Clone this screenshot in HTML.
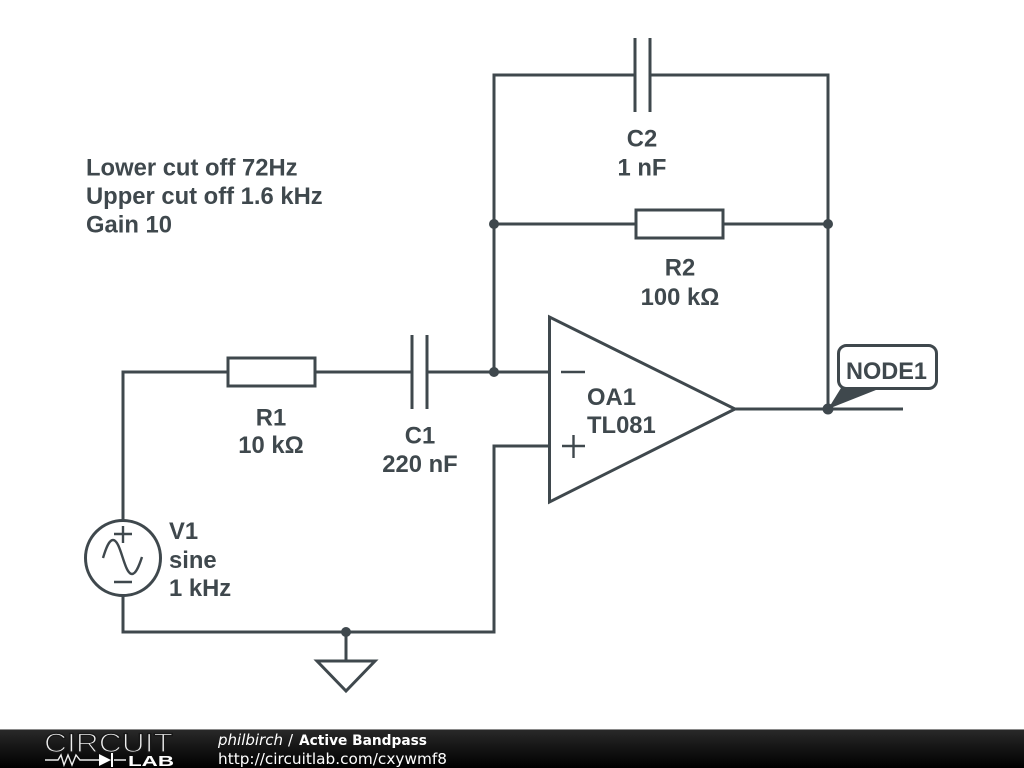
<!DOCTYPE html>
<html><head><meta charset="utf-8"><style>
html,body{margin:0;padding:0;background:#fff;width:1024px;height:768px;overflow:hidden}
svg{display:block}
.l{font:bold 23.800px "Liberation Sans",sans-serif;fill:#3f484d}
.m{text-anchor:middle}
.w{fill:none;stroke:#3f484d;stroke-width:3}
.t{fill:none;stroke:#3f484d;stroke-width:2.400}
</style></head><body>
<svg width="1024" height="768" viewBox="0 0 1024 768" xmlns="http://www.w3.org/2000/svg">
<defs><linearGradient id="g" x1="0" y1="0" x2="0" y2="1"><stop offset="0" stop-color="#2a2a2a"/><stop offset="0.5" stop-color="#141414"/><stop offset="1" stop-color="#000"/></linearGradient></defs>
<g class="w">
<path d="M123 521V372H228M315 372H412M427 372H549M123 596V632H494V446H549"/>
<path d="M494 372V75H635M650 75H828V409"/>
<path d="M494 224H636M723 224H828"/>
<path d="M735 409H903"/>
<path d="M346 632V661"/>
<path d="M317 661H375L346 691Z"/>
<rect x="228" y="358" width="87" height="28"/>
<rect x="636" y="210" width="87" height="28"/>
<path d="M412 335V409M427 335V409"/>
<path d="M635 38V112M650 38V112"/>
<path d="M549.500 317V502L735 409Z"/>
<circle cx="123" cy="558" r="37.500"/>
</g>
<path class="t" d="M561 372H585M562 446H585M573.500 435V458"/>
<path class="t" d="M114 534H132M123 526V543M114 582H132"/>
<path class="t" d="M103 558C106 548 109 540 113 540C121 540 124 574 132 574C136 574 139 566 142 557"/>
<g fill="#3f484d">
<circle cx="494" cy="224" r="5"/><circle cx="828" cy="224" r="5"/><circle cx="494" cy="372" r="5"/><circle cx="346" cy="632" r="5"/><circle cx="828" cy="409" r="5.500"/>
<path d="M828 409L841 388H881Z"/>
</g>
<rect x="838.500" y="345.500" width="98" height="43" rx="8" fill="#fff" stroke="#3f484d" stroke-width="3"/>
<text class="l" x="846" y="379" textLength="81" lengthAdjust="spacingAndGlyphs">NODE1</text>
<text class="l" x="86" y="175.500">Lower cut off 72Hz</text>
<text class="l" x="86" y="204">Upper cut off 1.6 kHz</text>
<text class="l" x="86" y="232.500">Gain 10</text>
<text class="l m" x="642" y="146.500">C2</text>
<text class="l m" x="642" y="175.500">1 nF</text>
<text class="l m" x="680" y="275.500">R2</text>
<text class="l m" x="680" y="305">100 kΩ</text>
<text class="l m" x="271" y="425.500">R1</text>
<text class="l m" x="271" y="453">10 kΩ</text>
<text class="l m" x="420" y="443.500">C1</text>
<text class="l m" x="420" y="472">220 nF</text>
<text class="l" x="587" y="405">OA1</text>
<text class="l" x="587" y="433">TL081</text>
<text class="l" x="169" y="539">V1</text>
<text class="l" x="169" y="568">sine</text>
<text class="l" x="169" y="596">1 kHz</text>
<rect x="0" y="729" width="1024" height="39" fill="url(#g)"/>
<rect x="0" y="729" width="1024" height="1" fill="#8a8a8a"/>
<text x="44" y="752" textLength="129" lengthAdjust="spacingAndGlyphs" style="font:27px 'Liberation Sans',sans-serif;fill:#eee;stroke:#181818;stroke-width:1.300">CIRCUIT</text>
<path d="M45 760H58L61 755L64 765L68 755L72 765L76 755L80 760H99M114 760H126" fill="none" stroke="#eee" stroke-width="1.400"/>
<path d="M99 754V766L111 760Z M111 753h2v14h-2z" fill="#fff"/>
<text x="128" y="766" textLength="46" lengthAdjust="spacingAndGlyphs" style="font:bold 14.500px 'Liberation Sans',sans-serif;fill:#fff">LAB</text>
<text x="218" y="745" style="font:italic 15px 'DejaVu Sans',sans-serif;fill:#fff">philbirch</text>
<text x="288" y="745" style="font:15px 'DejaVu Sans',sans-serif;fill:#fff">/</text>
<text x="299" y="745" textLength="128" lengthAdjust="spacingAndGlyphs" style="font:bold 14px 'DejaVu Sans',sans-serif;fill:#fff">Active Bandpass</text>
<text x="218" y="764" textLength="229" lengthAdjust="spacingAndGlyphs" style="font:15px 'DejaVu Sans',sans-serif;fill:#fff">http://circuitlab.com/cxywmf8</text>
</svg>
</body></html>
